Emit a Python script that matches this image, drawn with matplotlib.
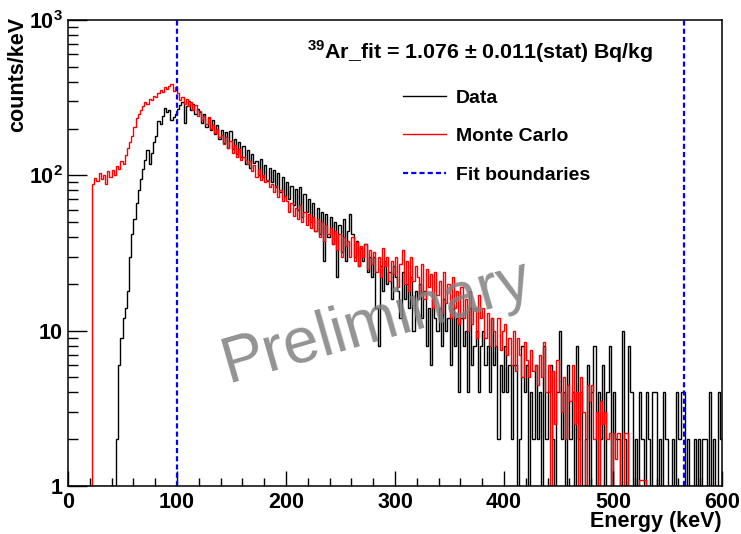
import numpy as np
import matplotlib
matplotlib.use("Agg")
import matplotlib.pyplot as plt
from matplotlib.lines import Line2D

# energy binning (keV), bins start at 0
bin_width = 2

# Monte Carlo spectrum, counts/keV, one row = 20 keV
mc_counts = [
    0, 0, 0, 0, 0, 0, 0, 0, 0, 0,
    0, 88, 96, 92, 104, 95, 100, 88, 106, 98,
    108, 101, 115, 110, 124, 118, 135, 150, 165, 180,
    205, 235, 250, 262, 280, 295, 288, 312, 305, 322,
    318, 340, 352, 345, 368, 360, 378, 385, 350, 372,
    340, 305, 318, 290, 312, 280, 296, 262, 282, 240,
    258, 228, 240, 215, 236, 198, 212, 186, 200, 176,
    182, 160, 176, 150, 166, 140, 156, 132, 148, 125,
    132, 126, 118, 124, 106, 116, 98, 110, 94, 100,
    90, 94, 84, 88, 78, 86, 72, 80, 68, 74,
    68, 58, 66, 55, 62, 52, 64, 50, 58, 48,
    56, 46, 54, 44, 52, 40, 50, 38, 48, 42,
    46, 36, 44, 33, 42, 30, 40, 35, 38, 30,
    40, 28, 37, 26, 35, 30, 36, 25, 33, 27,
    32, 24, 30, 22, 34, 26, 30, 21, 28, 23,
    30, 19, 27, 33, 20, 28, 18, 30, 21, 26,
    22, 17, 27, 16, 25, 19, 23, 14, 24, 17,
    21, 13, 24, 15, 20, 12, 22, 14, 18, 11,
    19, 12, 16, 10, 18, 11, 14, 9, 17, 12,
    14, 9, 13, 8, 12, 10, 8, 12, 7.5, 10,
    11, 7, 9, 6, 10, 5.5, 9, 7, 5, 8.5,
    6.5, 5, 7.5, 5.5, 6, 4.5, 7, 5, 8.5, 4,
    6, 0, 5.5, 2.5, 6.5, 4, 3, 5, 2, 4.5,
    3.5, 6, 2.5, 4, 0, 5, 3, 0, 4.5, 3.5,
    4.5, 2, 3, 0, 3.5, 2.5, 3, 2, 2.2, 0,
    2.2, 1.5, 2.2, 0, 0, 2.2, 2.2, 0, 0, 0,
    0, 0, 1.1, 1.1, 1.1, 0, 0, 0, 0, 0,
    0, 0, 0, 0, 0, 0, 0, 0, 0, 0,
    0, 0, 0, 0, 0, 0, 0, 0, 0, 0,
    0, 0, 0, 0, 0, 0, 0, 0, 0, 0,
]

# measured spectrum, counts/keV, one row = 20 keV
data_counts = [
    0, 0, 0, 0, 0, 0, 0, 0, 0, 0,
    0, 0, 0, 0, 0, 0, 0, 0, 0, 0,
    0, 0, 2, 6, 9, 12, 14, 18, 30, 42,
    52, 66, 80, 95, 110, 125, 145, 118, 140, 165,
    180, 225, 215, 240, 270, 255, 262, 228, 238, 250,
    268, 285, 295, 218, 280, 300, 262, 290, 248, 268,
    255, 218, 250, 205, 235, 196, 228, 185, 210, 172,
    195, 162, 190, 150, 192, 148, 172, 138, 165, 132,
    155, 118, 146, 112, 138, 120, 124, 100, 128, 98,
    116, 92, 112, 90, 108, 84, 104, 78, 98, 74,
    90, 70, 86, 64, 82, 60, 84, 54, 76, 58,
    70, 50, 66, 44, 62, 42, 58, 28, 56, 40,
    54, 36, 50, 22, 48, 32, 52, 28, 44, 56,
    42, 30, 38, 26, 34, 28, 36, 24, 30, 22,
    30, 14, 8, 26, 18, 28, 20, 24, 16, 26,
    22, 18, 12, 24, 16, 20, 14, 22, 10, 18,
    16, 20, 12, 18, 8, 14, 6, 16, 12, 10,
    14, 8, 16, 10, 12, 6, 14, 8, 12, 4,
    12, 8, 10, 4, 14, 6, 8, 10, 4, 8,
    10, 6, 8, 4, 12, 6, 8, 2, 6, 4,
    8, 4, 6, 2, 6, 6, 0, 2, 8, 4,
    6, 0, 4, 2, 6, 2, 4, 0, 8, 2,
    4, 6, 2, 0, 4, 10, 2, 4, 0, 6,
    2, 4, 0, 8, 2, 4, 0, 2, 6, 0,
    4, 8, 0, 4, 2, 6, 0, 4, 8, 0,
    4, 2, 2, 0, 10, 2, 0, 8, 4, 0,
    2, 0, 4, 2, 0, 4, 2, 0, 4, 4,
    0, 2, 0, 4, 2, 0, 0, 2, 0, 4,
    2, 4, 4, 0, 2, 0, 0, 2, 0, 2,
    0, 2, 2, 0, 4, 0, 2, 0, 4, 2,
]

fit_low = 100
fit_high = 565
fit_text = r'$^{39}$Ar_fit = 1.076 ± 0.011(stat) Bq/kg'

plt.rcParams['font.family'] = ['Liberation Sans', 'DejaVu Sans']
plt.rcParams['font.weight'] = 'bold'
plt.rcParams['mathtext.fontset'] = 'custom'
plt.rcParams['mathtext.rm'] = 'Liberation Sans:bold'
plt.rcParams['mathtext.bf'] = 'Liberation Sans:bold'

W, H = 741, 534
fig = plt.figure(figsize=(W / 100, H / 100), dpi=100)
ax = fig.add_axes([68 / W, 48 / H, 654 / W, 466 / H])

edges = np.arange(len(data_counts) + 1) * bin_width
data = np.maximum(np.array(data_counts, dtype=float), 1)
mc = np.maximum(np.array(mc_counts, dtype=float), 1)

ax.stairs(data, edges, baseline=None, color='black', lw=1.0)
ax.stairs(mc, edges, baseline=None, color='red', lw=1.0)

for xb in (fit_low, fit_high):
    ax.axvline(xb, color='blue', lw=1.6, ls=(0, (2.3, 1.4)))

ax.set_yscale('log')
ax.set_xlim(0, 600)
ax.set_ylim(1, 1000)

ax.set_xticks([0, 100, 200, 300, 400, 500, 600])
ax.set_xticks(np.arange(0, 601, 20), minor=True)
ax.set_yticks([1, 10, 100, 1000])
ax.set_yticklabels(['1', '10', r'$10^{2}$', r'$10^{3}$'])
ax.yaxis.set_minor_locator(matplotlib.ticker.LogLocator(subs=np.arange(2, 10)))
ax.yaxis.set_minor_formatter(matplotlib.ticker.NullFormatter())

ax.tick_params(axis='x', which='major', direction='in', length=11, width=1, labelsize=15.5, pad=4)
ax.tick_params(axis='x', which='minor', direction='in', length=5.5, width=1)
ax.tick_params(axis='y', which='major', direction='in', length=14, width=1, labelsize=15.5, pad=4)
ax.tick_params(axis='y', which='minor', direction='in', length=7, width=1)
for sp in ax.spines.values():
    sp.set_linewidth(1.1)

fig.text(722 / W, 1 - 522 / H, 'Energy (keV)', ha='right', va='center', fontsize=15.5)
fig.text(18 / W, 1 - 17 / H, 'counts/keV', ha='center', va='top', rotation=90, fontsize=15.5)
fig.text(307 / W, 1 - 52 / H, fit_text, ha='left', va='center', fontsize=15.4)

handles = [
    Line2D([], [], color='black', lw=1.0),
    Line2D([], [], color='red', lw=1.0),
    Line2D([], [], color='blue', lw=1.6, ls=(0, (2.3, 1.4))),
]
fig.legend(handles, ['Data', 'Monte Carlo', 'Fit boundaries'],
           loc='upper left', bbox_to_anchor=(403 / W, 1 - 89 / H),
           frameon=False, fontsize=14, handlelength=2.2, handletextpad=0.5,
           labelspacing=1.08, borderpad=0, borderaxespad=0)

fig.text(377 / W, 1 - 322 / H, 'Preliminary', rotation=16, color='#808080', alpha=0.85,
         fontsize=46, fontweight='normal', ha='center', va='center',
         rotation_mode='anchor', zorder=5)

fig.savefig('out.png', dpi=100)
